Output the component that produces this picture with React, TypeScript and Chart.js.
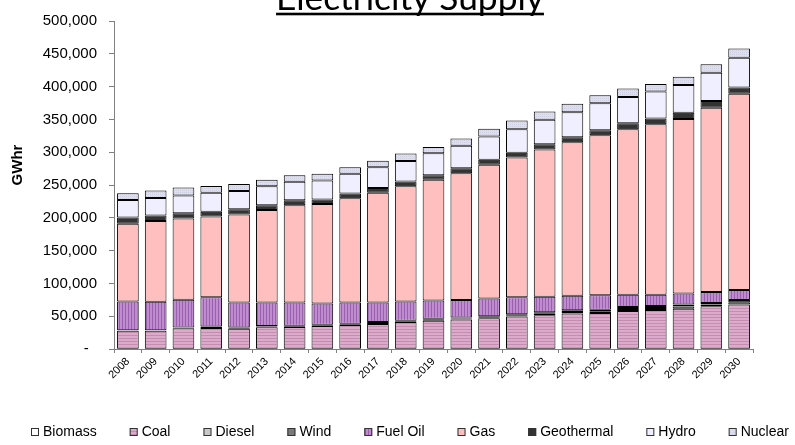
import React, { useEffect, useRef } from 'react';
import { Chart, registerables } from 'chart.js';

Chart.register(...registerables);

const years = ['2008', '2009', '2010', '2011', '2012', '2013', '2014', '2015', '2016', '2017', '2018', '2019', '2020', '2021', '2022', '2023', '2024', '2025', '2026', '2027', '2028', '2029', '2030'];

const biomass = [300, 300, 300, 300, 300, 300, 300, 300, 300, 300, 300, 300, 300, 300, 300, 300, 300, 300, 300, 300, 300, 300, 300];
const coal = [27400, 27400, 31400, 31900, 30400, 32700, 33200, 34800, 36300, 37800, 40700, 42700, 44700, 46700, 49200, 51200, 53700, 54700, 57700, 59100, 61100, 65000, 67500];
const diesel = [600, 600, 600, 1200, 1200, 1200, 1200, 1200, 1200, 1500, 1200, 1500, 1500, 1500, 1800, 2200, 2500, 2500, 3000, 3000, 3200, 2500, 3500];
const wind = [400, 400, 400, 800, 800, 800, 800, 800, 800, 1500, 800, 1500, 1500, 1500, 1700, 2300, 2500, 2500, 3000, 3000, 3300, 2500, 3500];
const fuelOil = [43800, 43300, 42300, 44500, 38100, 35800, 35300, 32200, 32200, 29700, 29300, 28000, 26700, 27000, 25700, 23700, 22000, 22000, 18700, 17300, 16700, 16700, 15200];
const gas = [118500, 123000, 124000, 123300, 134200, 141200, 148200, 151700, 158900, 167200, 175700, 184000, 193300, 203700, 213300, 224300, 234000, 244000, 252300, 259800, 265900, 280800, 299000];
const geothermal = [9500, 8500, 8000, 7400, 8000, 7000, 7700, 7000, 7300, 7500, 7400, 7000, 7700, 7900, 7000, 8000, 7700, 7600, 9000, 9000, 9500, 10200, 9500];
const hydro = [26500, 26500, 27000, 28600, 28000, 29000, 28300, 29000, 30000, 31500, 31200, 33500, 34300, 35400, 36000, 37500, 38300, 41100, 40000, 41000, 42400, 43000, 45500];
const nuclear = [10500, 11500, 12000, 10500, 10500, 10000, 10000, 10000, 10000, 10000, 11400, 9500, 11000, 11600, 13500, 12500, 13000, 12300, 13000, 11500, 12600, 13000, 14000];

const yTicksMax = 500000;
const yTicksStep = 50000;

const FONT = 'Liberation Sans';

export default function App() {
  const ref = useRef<HTMLCanvasElement>(null);

  useEffect(() => {
    const canvas = ref.current!;
    const ctx0 = canvas.getContext('2d')!;

    const mkPattern = (w: number, h: number, draw: (c: CanvasRenderingContext2D) => void) => {
      const c = document.createElement('canvas');
      c.width = w;
      c.height = h;
      const x = c.getContext('2d')!;
      draw(x);
      return ctx0.createPattern(c, 'repeat')!;
    };

    const coalPat = mkPattern(1, 3, (x) => {
      x.fillStyle = '#DCAACA';
      x.fillRect(0, 0, 1, 3);
      x.fillStyle = '#C38DB0';
      x.fillRect(0, 2, 1, 1);
    });
    const fuelPat = mkPattern(3, 1, (x) => {
      x.fillStyle = '#C08CD0';
      x.fillRect(0, 0, 3, 1);
      x.fillStyle = '#9A60AE';
      x.fillRect(2, 0, 1, 1);
    });
    const nuclearPat = mkPattern(2, 2, (x) => {
      x.fillStyle = '#DEDEEE';
      x.fillRect(0, 0, 2, 2);
      x.fillStyle = '#CFCFE2';
      x.fillRect(0, 0, 1, 1);
    });

    const series = [
      { label: 'Biomass', data: biomass, bg: '#FFFFFF' as any },
      { label: 'Coal', data: coal, bg: coalPat as any },
      { label: 'Diesel', data: diesel, bg: '#C8C8C8' as any },
      { label: 'Wind', data: wind, bg: '#7A7A7A' as any },
      { label: 'Fuel Oil', data: fuelOil, bg: fuelPat as any },
      { label: 'Gas', data: gas, bg: '#FFBFBF' as any },
      { label: 'Geothermal', data: geothermal, bg: '#333333' as any },
      { label: 'Hydro', data: hydro, bg: '#EFEFFF' as any },
      { label: 'Nuclear', data: nuclear, bg: nuclearPat as any },
    ];

    const overlayPlugin = {
      id: 'overlay',
      afterDraw(chart: any) {
        const ctx: CanvasRenderingContext2D = chart.ctx;
        ctx.save();
        // Title
        const titleText = 'Electricity Supply';
        ctx.font = `28px Lato`;
        const w0 = ctx.measureText(titleText).width;
        const size = (28 * 268) / w0;
        ctx.font = `${size}px Lato`;
        const tw = ctx.measureText(titleText).width;
        const cx = 410;
        ctx.fillStyle = '#000';
        ctx.textAlign = 'center';
        ctx.textBaseline = 'alphabetic';
        ctx.fillText(titleText, cx, 10);
        ctx.fillRect(cx - tw / 2, 12.7, tw, 2.6);

        // Y title
        ctx.save();
        ctx.translate(18, 165);
        ctx.rotate(-Math.PI / 2);
        ctx.font = `bold 15px ${FONT}`;
        ctx.textAlign = 'center';
        ctx.textBaseline = 'middle';
        ctx.fillText('GWhr', 0, 0);
        ctx.restore();

        // Legend
        ctx.font = `14px ${FONT}`;
        ctx.textAlign = 'left';
        ctx.textBaseline = 'middle';
        let x = 31;
        const yc = 432;
        chart.data.datasets.forEach((ds: any) => {
          ctx.fillStyle = ds.backgroundColor;
          ctx.fillRect(x, yc - 4, 8, 8);
          ctx.strokeStyle = '#333';
          ctx.lineWidth = 1;
          ctx.strokeRect(x + 0.5, yc - 3.5, 7, 7);
          ctx.fillStyle = '#000';
          ctx.fillText(ds.label, x + 12, yc);
          x += 12 + ctx.measureText(ds.label).width + 33;
        });
        ctx.restore();
      },
    };

    const chart = new Chart(canvas, {
      type: 'bar',
      data: {
        labels: years,
        datasets: series.map((s) => ({
          label: s.label,
          data: s.data,
          backgroundColor: s.bg,
          borderColor: '#000000',
          borderWidth: 1,
          borderSkipped: false,
          barPercentage: 0.78,
          categoryPercentage: 1.0,
        })),
      },
      options: {
        animation: false,
        responsive: false,
        layout: { padding: { left: 0, right: 42, top: 13, bottom: 0 } },
        plugins: {
          legend: { display: false },
          title: { display: false },
          tooltip: { enabled: false },
        },
        scales: {
          x: {
            stacked: true,
            ticks: {
              font: { family: FONT, size: 11 },
              color: '#000',
              maxRotation: 45,
              minRotation: 45,
              padding: 2,
              autoSkip: false,
            },
            grid: {
              drawOnChartArea: false,
              drawTicks: true,
              tickLength: 4,
              color: '#808080',
              offset: true,
            },
            border: { display: true, color: '#808080', width: 1 },
            afterFit: (s: any) => {
              s.height = 96;
            },
          },
          y: {
            stacked: true,
            min: 0,
            max: yTicksMax,
            ticks: {
              stepSize: yTicksStep,
              font: { family: FONT, size: 15 },
              color: '#000',
              padding: 12,
              callback: (v: any) => (Number(v) === 0 ? '-  ' : Number(v).toLocaleString('en-US')),
            },
            grid: {
              drawOnChartArea: false,
              drawTicks: true,
              tickLength: 5,
              color: '#808080',
            },
            border: { display: true, color: '#808080', width: 1 },
            afterFit: (s: any) => {
              s.width = 114;
            },
          },
        },
      },
      plugins: [overlayPlugin],
    });

    return () => chart.destroy();
  }, []);

  return (
    <div style={{ position: 'fixed', left: 0, top: 0, width: 795, height: 445, background: '#fff' }}>
      <canvas ref={ref} width={795} height={445} style={{ display: 'block' }} />
    </div>
  );
}
